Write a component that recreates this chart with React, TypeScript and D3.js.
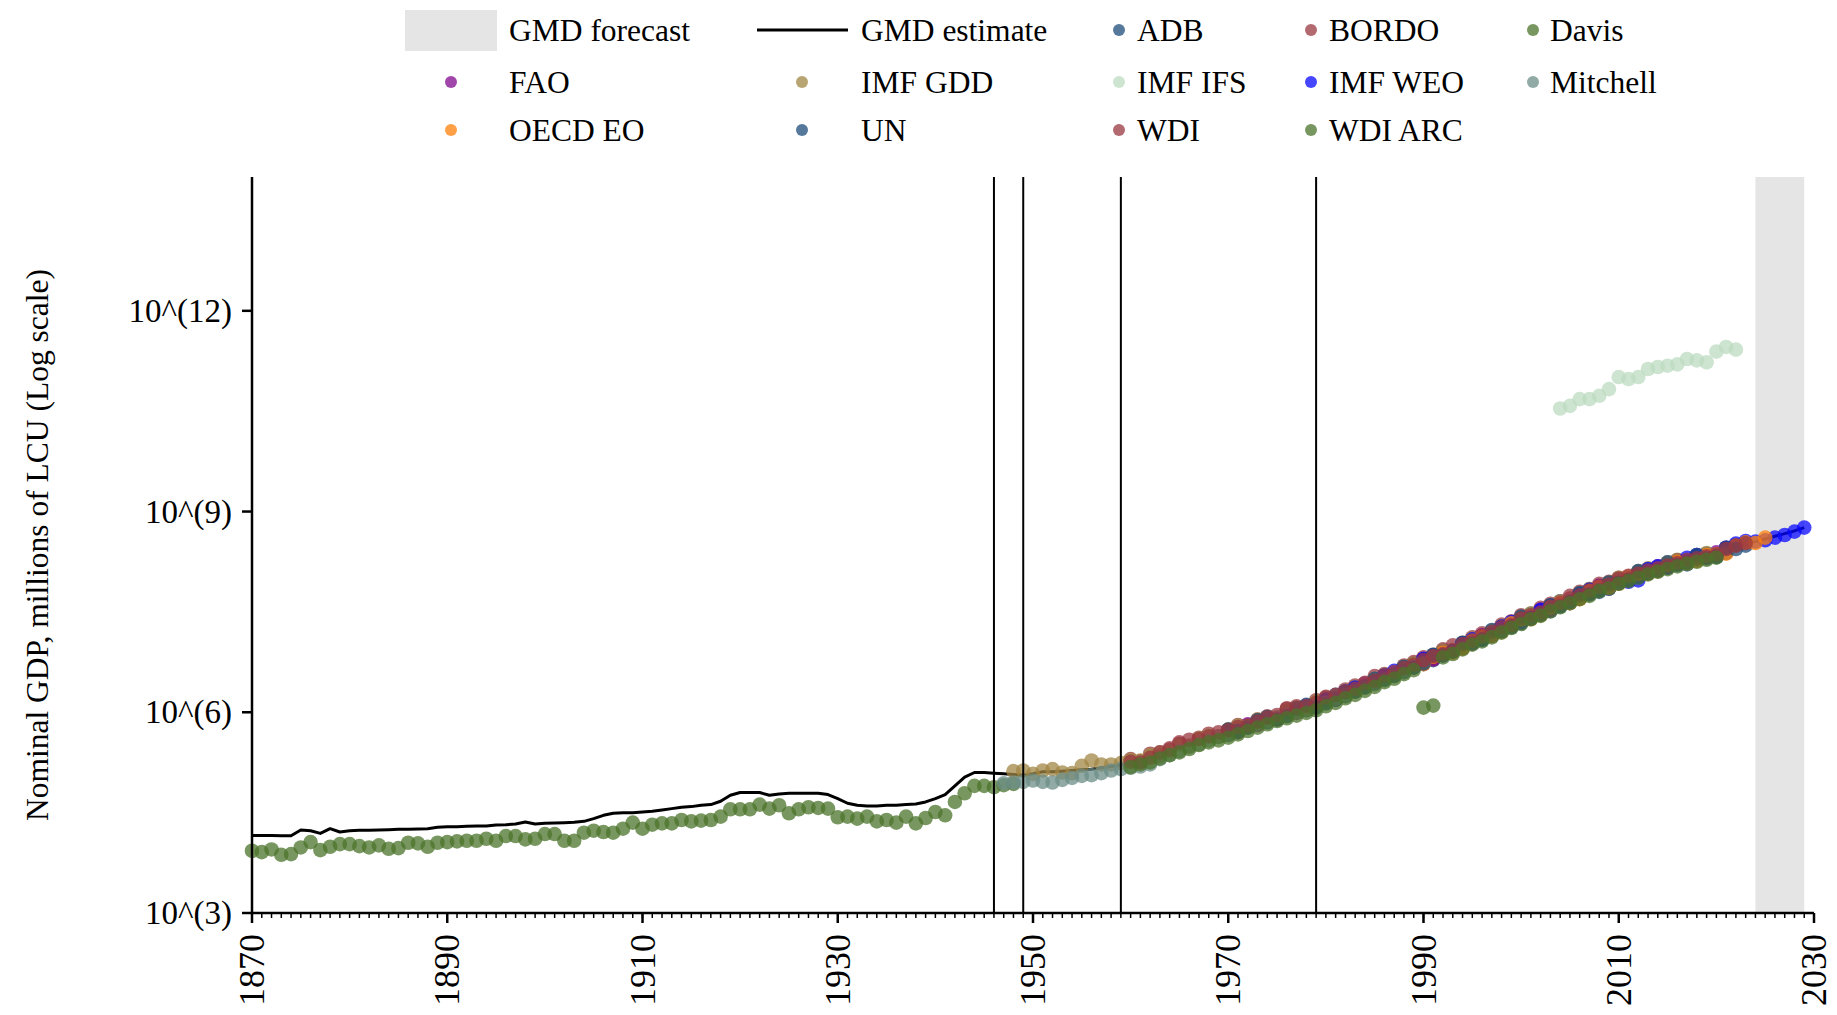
import React from 'react';
import * as d3 from 'd3';

const W = 1837;
const H = 1015;
const PLOT = { left: 252, right: 1814, top: 177, bottom: 913 };

// ---------- axes / annotations ----------
const xDomain = [1870, 2030];
const xTickYears = [1870, 1890, 1910, 1930, 1950, 1970, 1990, 2010, 2030];
const yDomainExp = [3, 14];
const yTickExps = [3, 6, 9, 12];
const forecastYears = [2024, 2029];
const markerYears = [1946, 1949, 1959, 1979];
const yTitle = 'Nominal GDP, millions of LCU (Log scale)';

// ---------- data (log10 of millions of LCU) ----------
const gmdStart = 1870;
const gmdEstimate = [
  4.16, 4.16, 4.16, 4.155, 4.155, 4.24, 4.23, 4.19, 4.26, 4.21,
  4.23, 4.235, 4.235, 4.24, 4.245, 4.25, 4.25, 4.255, 4.26, 4.28,
  4.29, 4.29, 4.295, 4.30, 4.30, 4.315, 4.32, 4.33, 4.36, 4.33,
  4.34, 4.345, 4.35, 4.355, 4.37, 4.41, 4.46, 4.49, 4.50, 4.50,
  4.51, 4.52, 4.54, 4.56, 4.58, 4.59, 4.61, 4.62, 4.67, 4.76,
  4.80, 4.80, 4.80, 4.76, 4.78, 4.79, 4.79, 4.79, 4.79, 4.77,
  4.71, 4.64, 4.61, 4.60, 4.60, 4.61, 4.61, 4.62, 4.63, 4.66,
  4.71, 4.77, 4.90, 5.03, 5.10, 5.10, 5.09, 5.08, 5.07, 5.06,
  5.08, 5.11, 5.11, 5.12, 5.13, 5.14, 5.15, 5.17, 5.19, 5.21,
  5.24, 5.27, 5.31, 5.36, 5.41, 5.46, 5.51, 5.56, 5.61, 5.65,
  5.69, 5.74, 5.79, 5.84, 5.89, 5.93, 5.97, 6.02, 6.07, 6.11,
  6.16, 6.22, 6.28, 6.34, 6.40, 6.46, 6.52, 6.58, 6.64, 6.70,
  6.76, 6.82, 6.88, 6.94, 7.00, 7.06, 7.12, 7.18, 7.25, 7.32,
  7.38, 7.44, 7.50, 7.56, 7.62, 7.68, 7.74, 7.80, 7.86, 7.91,
  7.97, 8.02, 8.07, 8.11, 8.15, 8.20, 8.24, 8.27, 8.31, 8.34,
  8.36, 8.42, 8.48, 8.52, 8.55, 8.59, 8.63, 8.67, 8.71, 8.76,
];

const adbStart = 1970;
const adb = [
  5.66, 5.70, 5.80, 5.86, 5.85, 5.90, 6.01, 6.04, 6.03, 6.10,
  6.18, 6.19, 6.24, 6.36, 6.37, 6.43, 6.55, 6.54, 6.60, 6.73,
  6.72, 6.78, 6.92, 6.90, 6.96, 7.09, 7.08, 7.14, 7.28, 7.27,
  7.33, 7.47, 7.46, 7.51, 7.66, 7.63, 7.70, 7.84, 7.80, 7.85,
  7.99, 7.97, 8.02, 8.14, 8.11, 8.16, 8.27, 8.21, 8.28, 8.37,
  8.32, 8.38, 8.50, 8.49,
];

const bordoStart = 1960;
const bordo = [
  5.30, 5.27, 5.38, 5.35, 5.46, 5.53, 5.50, 5.62, 5.68, 5.64,
  5.74, 5.81, 5.78, 5.89, 5.94, 5.91, 6.05, 6.09, 6.05, 6.18,
  6.23, 6.21, 6.34, 6.40, 6.38, 6.54, 6.57, 6.56, 6.70, 6.75,
  6.82, 6.80, 6.94, 7.00, 6.99, 7.12, 7.18, 7.17, 7.31, 7.36,
  7.45, 7.43, 7.56, 7.62, 7.60, 7.74, 7.80, 7.78, 7.92, 7.95,
  8.01, 8.00,
];

const davisStart = 1870;
const davis = [
  3.93, 3.91, 3.95, 3.87, 3.88, 3.98, 4.06, 3.94, 3.99, 4.03,
  4.03, 4.00, 3.98, 4.01, 3.96, 3.97, 4.05, 4.04, 3.99, 4.05,
  4.06, 4.07, 4.08, 4.08, 4.11, 4.08, 4.15, 4.15, 4.10, 4.11,
  4.18, 4.18, 4.08, 4.08, 4.20, 4.23, 4.21, 4.20, 4.26, 4.35,
  4.26, 4.32, 4.34, 4.34, 4.39, 4.37, 4.38, 4.39, 4.44, 4.55,
  4.55, 4.55, 4.62, 4.56, 4.61, 4.49, 4.55, 4.58, 4.57, 4.56,
  4.43, 4.44, 4.41, 4.44, 4.37, 4.39, 4.35, 4.44, 4.34, 4.42,
  4.51, 4.46, 4.66, 4.79, 4.90, 4.90, 4.88, 4.91, 4.93,
];

const faoStart = 1970;
const fao = [
  5.72, 5.71, 5.82, 5.81, 5.92, 5.90, 6.00, 5.99, 6.10, 6.08,
  6.19, 6.19, 6.31, 6.31, 6.43, 6.43, 6.55, 6.55, 6.67, 6.67,
  6.79, 6.79, 6.91, 6.91, 7.03, 7.03, 7.15, 7.15, 7.28, 7.29,
  7.41, 7.41, 7.53, 7.53, 7.65, 7.65, 7.77, 7.77, 7.89, 7.87,
  8.00, 7.99, 8.10, 8.08, 8.18, 8.17, 8.27, 8.24, 8.34, 8.31,
  8.39, 8.46,
];

const imfGddStart = 1948;
const imfGdd = [
  5.12, 5.13,
  5.08, 5.13, 5.15, 5.10, 5.09, 5.20, 5.28, 5.22, 5.22, 5.24,
  5.29, 5.28, 5.36, 5.40, 5.41, 5.51, 5.50, 5.61, 5.65, 5.63,
  5.74, 5.80, 5.79, 5.89, 5.93, 5.92, 6.02, 6.07, 6.05, 6.16,
  6.21, 6.20, 6.32, 6.38, 6.37, 6.50, 6.56, 6.55, 6.68, 6.73,
  6.74, 6.86, 6.92, 6.92, 7.04, 7.10, 7.10, 7.22, 7.29, 7.29,
  7.42, 7.48, 7.48, 7.60, 7.66, 7.66, 7.78, 7.84, 7.84, 7.94,
  8.01, 8.00, 8.11, 8.15, 8.13, 8.24, 8.28, 8.25, 8.35, 8.38,
];

const imfIfsStart = 2004;
const imfIfs = [
  10.54, 10.58, 10.68, 10.68, 10.73, 10.83, 11.01, 10.98, 11.01, 11.13,
  11.16, 11.18, 11.20, 11.28, 11.26, 11.23, 11.39, 11.46, 11.42,
];

const imfWeoStart = 1980;
const imfWeo = [
  6.19, 6.19, 6.31, 6.37, 6.38, 6.44, 6.55, 6.62, 6.61, 6.67,
  6.80, 6.85, 6.85, 6.91, 7.03, 7.09, 7.09, 7.15, 7.28, 7.35,
  7.35, 7.41, 7.53, 7.59, 7.59, 7.64, 7.76, 7.83, 7.83, 7.85,
  7.93, 7.95, 7.97, 8.14, 8.18, 8.17, 8.21, 8.31, 8.35, 8.32,
  8.35, 8.46, 8.52, 8.56, 8.55, 8.57, 8.61, 8.65, 8.70, 8.76,
];

const mitchellStart = 1947;
const mitchell = [
  4.94, 4.95, 4.96, 4.98, 4.96, 4.95, 4.99, 5.02, 5.05, 5.06,
  5.09, 5.13, 5.15, 5.17, 5.19, 5.22, 5.30, 5.36, 5.42, 5.48,
  5.52, 5.58, 5.63, 5.67, 5.72, 5.77, 5.83, 5.88, 5.92, 5.95,
  6.00, 6.05, 6.09, 6.14, 6.20, 6.26, 6.31, 6.37, 6.42, 6.48,
  6.55, 6.60, 6.67, 6.73,
];

const oecdStart = 1990;
const oecd = [
  6.72, 6.83, 6.89, 6.89, 6.95, 7.07, 7.13, 7.14, 7.20, 7.33,
  7.39, 7.39, 7.45, 7.57, 7.63, 7.63, 7.69, 7.81, 7.87, 7.86,
  7.92, 8.03, 8.07, 8.07, 8.11, 8.21, 8.25, 8.23, 8.26, 8.35,
  8.36, 8.37, 8.49, 8.54, 8.53, 8.61,
];

const unStart = 1970;
const un = [
  5.74, 5.72, 5.77, 5.88, 5.93, 5.89, 5.94, 6.06, 6.11, 6.07,
  6.13, 6.26, 6.30, 6.31, 6.38, 6.50, 6.49, 6.55, 6.68, 6.67,
  6.73, 6.86, 6.85, 6.91, 7.04, 7.03, 7.09, 7.23, 7.21, 7.28,
  7.43, 7.40, 7.46, 7.60, 7.58, 7.65, 7.78, 7.76, 7.82, 7.94,
  7.93, 7.98, 8.11, 8.08, 8.12, 8.24, 8.20, 8.24, 8.35, 8.30,
  8.33, 8.46, 8.44,
];

const wdiStart = 1960;
const wdi = [
  5.26, 5.25, 5.32, 5.40, 5.44, 5.55, 5.59, 5.60, 5.64, 5.70,
  5.73, 5.78, 5.80, 5.86, 5.92, 5.96, 6.06, 6.07, 6.09, 6.14,
  6.22, 6.26, 6.31, 6.35, 6.44, 6.47, 6.55, 6.60, 6.66, 6.71,
  6.78, 6.84, 6.87, 6.93, 7.02, 7.07, 7.14, 7.20, 7.27, 7.30,
  7.40, 7.45, 7.49, 7.58, 7.63, 7.70, 7.75, 7.82, 7.88, 7.91,
  7.99, 8.04, 8.07, 8.12, 8.15, 8.19, 8.23, 8.28, 8.30, 8.33,
  8.36, 8.44, 8.49, 8.53,
];

const wdiArcStart = 1960;
const wdiArc = [
  5.18, 5.22, 5.25, 5.31, 5.36, 5.40, 5.45, 5.51, 5.55, 5.58,
  5.62, 5.67, 5.72, 5.77, 5.82, 5.87, 5.91, 5.95, 5.99, 6.03,
  6.09, 6.14, 6.21, 6.26, 6.32, 6.38, 6.45, 6.50, 6.57, 6.63,
  6.07, 6.10, 6.82, 6.87, 6.94, 7.01, 7.06, 7.12, 7.19, 7.26,
  7.32, 7.39, 7.44, 7.51, 7.57, 7.63, 7.69, 7.74, 7.81, 7.85,
  7.92, 7.96, 8.01, 8.06, 8.10, 8.14, 8.18, 8.22, 8.25, 8.28,
  8.31,
];

const seriesNames = ['ADB', 'BORDO', 'Davis', 'FAO', 'IMF GDD', 'IMF IFS', 'IMF WEO', 'Mitchell', 'OECD EO', 'UN', 'WDI', 'WDI ARC'];
const seriesColors = ['#1c4b79', '#983740', '#4b732a', '#80088e', '#a28744', '#bcdbc0', '#0808ff', '#6c8e87', '#ff8008', '#1c4b79', '#983740', '#4b732a'];
const seriesStarts = [adbStart, bordoStart, davisStart, faoStart, imfGddStart, imfIfsStart, imfWeoStart, mitchellStart, oecdStart, unStart, wdiStart, wdiArcStart];
const seriesValues = [adb, bordo, davis, fao, imfGdd, imfIfs, imfWeo, mitchell, oecd, un, wdi, wdiArc];

// ---------- styling ----------
const FONT = '"Liberation Serif", "Times New Roman", Times, serif';
const DOT_R = 7.3;
const DOT_OPACITY = 0.75;

const legendRows = [
  ['GMD forecast', 'GMD estimate', 'ADB', 'BORDO', 'Davis'],
  ['FAO', 'IMF GDD', 'IMF IFS', 'IMF WEO', 'Mitchell'],
  ['OECD EO', 'UN', 'WDI', 'WDI ARC'],
];
const legendRowCenters = [30, 82, 130];
const legendSymbolX = [451, 802, 1119, 1311, 1533];
const legendTextX = [509, 861, 1137, 1329, 1550];

export default function App() {
  const x = d3.scaleLinear().domain(xDomain).range([PLOT.left, PLOT.right]);
  const y = d3.scaleLog().domain([Math.pow(10, yDomainExp[0]), Math.pow(10, yDomainExp[1])]).range([PLOT.bottom, PLOT.top]);

  const linePts: [number, number][] = gmdEstimate.map((v, i) => [gmdStart + i, Math.pow(10, v)]);
  const line = d3.line<[number, number]>().x((d) => x(d[0])).y((d) => y(d[1]));

  const series = seriesNames.map((name, k) => ({
    name,
    color: seriesColors[k],
    points: seriesValues[k].map((v, i) => ({ year: seriesStarts[k] + i, value: Math.pow(10, v) })),
  }));

  const minorYears = d3.range(xDomain[0], xDomain[1] + 1);
  const fs = 31.5;

  return (
    <svg width={W} height={H} style={{ position: 'absolute', left: 0, top: 0, background: '#fff' }} fontFamily={FONT}>
      <rect x={0} y={0} width={W} height={H} fill="#fff" />
      {/* forecast band */}
      <rect
        x={x(forecastYears[0])}
        y={PLOT.top}
        width={x(forecastYears[1]) - x(forecastYears[0])}
        height={PLOT.bottom - PLOT.top}
        fill="#e5e5e5"
      />
      {/* GMD estimate */}
      <path d={line(linePts) || ''} fill="none" stroke="#000" strokeWidth={3} strokeLinejoin="round" />
      {/* source dots */}
      {series.map((s) => (
        <g key={s.name}>
          {s.points.map((p) => (
            <circle key={p.year} cx={x(p.year)} cy={y(p.value)} r={DOT_R} fill={s.color} fillOpacity={DOT_OPACITY} />
          ))}
        </g>
      ))}
      {/* vertical markers */}
      {markerYears.map((yr) => (
        <line key={yr} x1={x(yr)} x2={x(yr)} y1={PLOT.top} y2={PLOT.bottom} stroke="#000" strokeWidth={2} />
      ))}
      {/* y axis */}
      <line x1={PLOT.left} x2={PLOT.left} y1={PLOT.top} y2={PLOT.bottom} stroke="#000" strokeWidth={2.5} />
      {yTickExps.map((e) => {
        const yy = y(Math.pow(10, e));
        return (
          <g key={e}>
            <line x1={PLOT.left - 10} x2={PLOT.left} y1={yy} y2={yy} stroke="#000" strokeWidth={2.5} />
            <text x={PLOT.left - 20} y={yy} textAnchor="end" dominantBaseline="central" fontSize={33}>
              {`10^(${e})`}
            </text>
          </g>
        );
      })}
      {/* x axis */}
      <line x1={PLOT.left} x2={PLOT.right} y1={PLOT.bottom} y2={PLOT.bottom} stroke="#000" strokeWidth={2.5} />
      {minorYears.map((yr) => (
        <line key={yr} x1={x(yr)} x2={x(yr)} y1={PLOT.bottom} y2={PLOT.bottom + 5} stroke="#000" strokeWidth={1.5} />
      ))}
      {xTickYears.map((yr) => (
        <g key={yr}>
          <line x1={x(yr)} x2={x(yr)} y1={PLOT.bottom} y2={PLOT.bottom + 10} stroke="#000" strokeWidth={2.5} />
          <text
            transform={`translate(${x(yr)},${PLOT.bottom + 21}) rotate(-90)`}
            textAnchor="end"
            dominantBaseline="central"
            fontSize={36}
          >
            {yr}
          </text>
        </g>
      ))}
      {/* y title */}
      <text transform={`translate(48,${(PLOT.top + PLOT.bottom) / 2}) rotate(-90)`} textAnchor="middle" fontSize={fs}>
        {yTitle}
      </text>
      {/* legend */}
      {legendRows.map((row, r) =>
        row.map((name, c) => {
          const cy = legendRowCenters[r];
          const sx = legendSymbolX[c];
          let symbol: React.ReactNode;
          if (name === 'GMD forecast') {
            symbol = <rect x={sx - 46} y={cy - 20} width={92} height={41} fill="#e5e5e5" />;
          } else if (name === 'GMD estimate') {
            symbol = <line x1={sx - 45} x2={sx + 46} y1={cy} y2={cy} stroke="#000" strokeWidth={3} />;
          } else {
            const k = seriesNames.indexOf(name);
            symbol = <circle cx={sx} cy={cy} r={6} fill={seriesColors[k]} fillOpacity={DOT_OPACITY} />;
          }
          return (
            <g key={name}>
              {symbol}
              <text x={legendTextX[c]} y={cy} dominantBaseline="central" fontSize={fs}>
                {name}
              </text>
            </g>
          );
        })
      )}
    </svg>
  );
}
